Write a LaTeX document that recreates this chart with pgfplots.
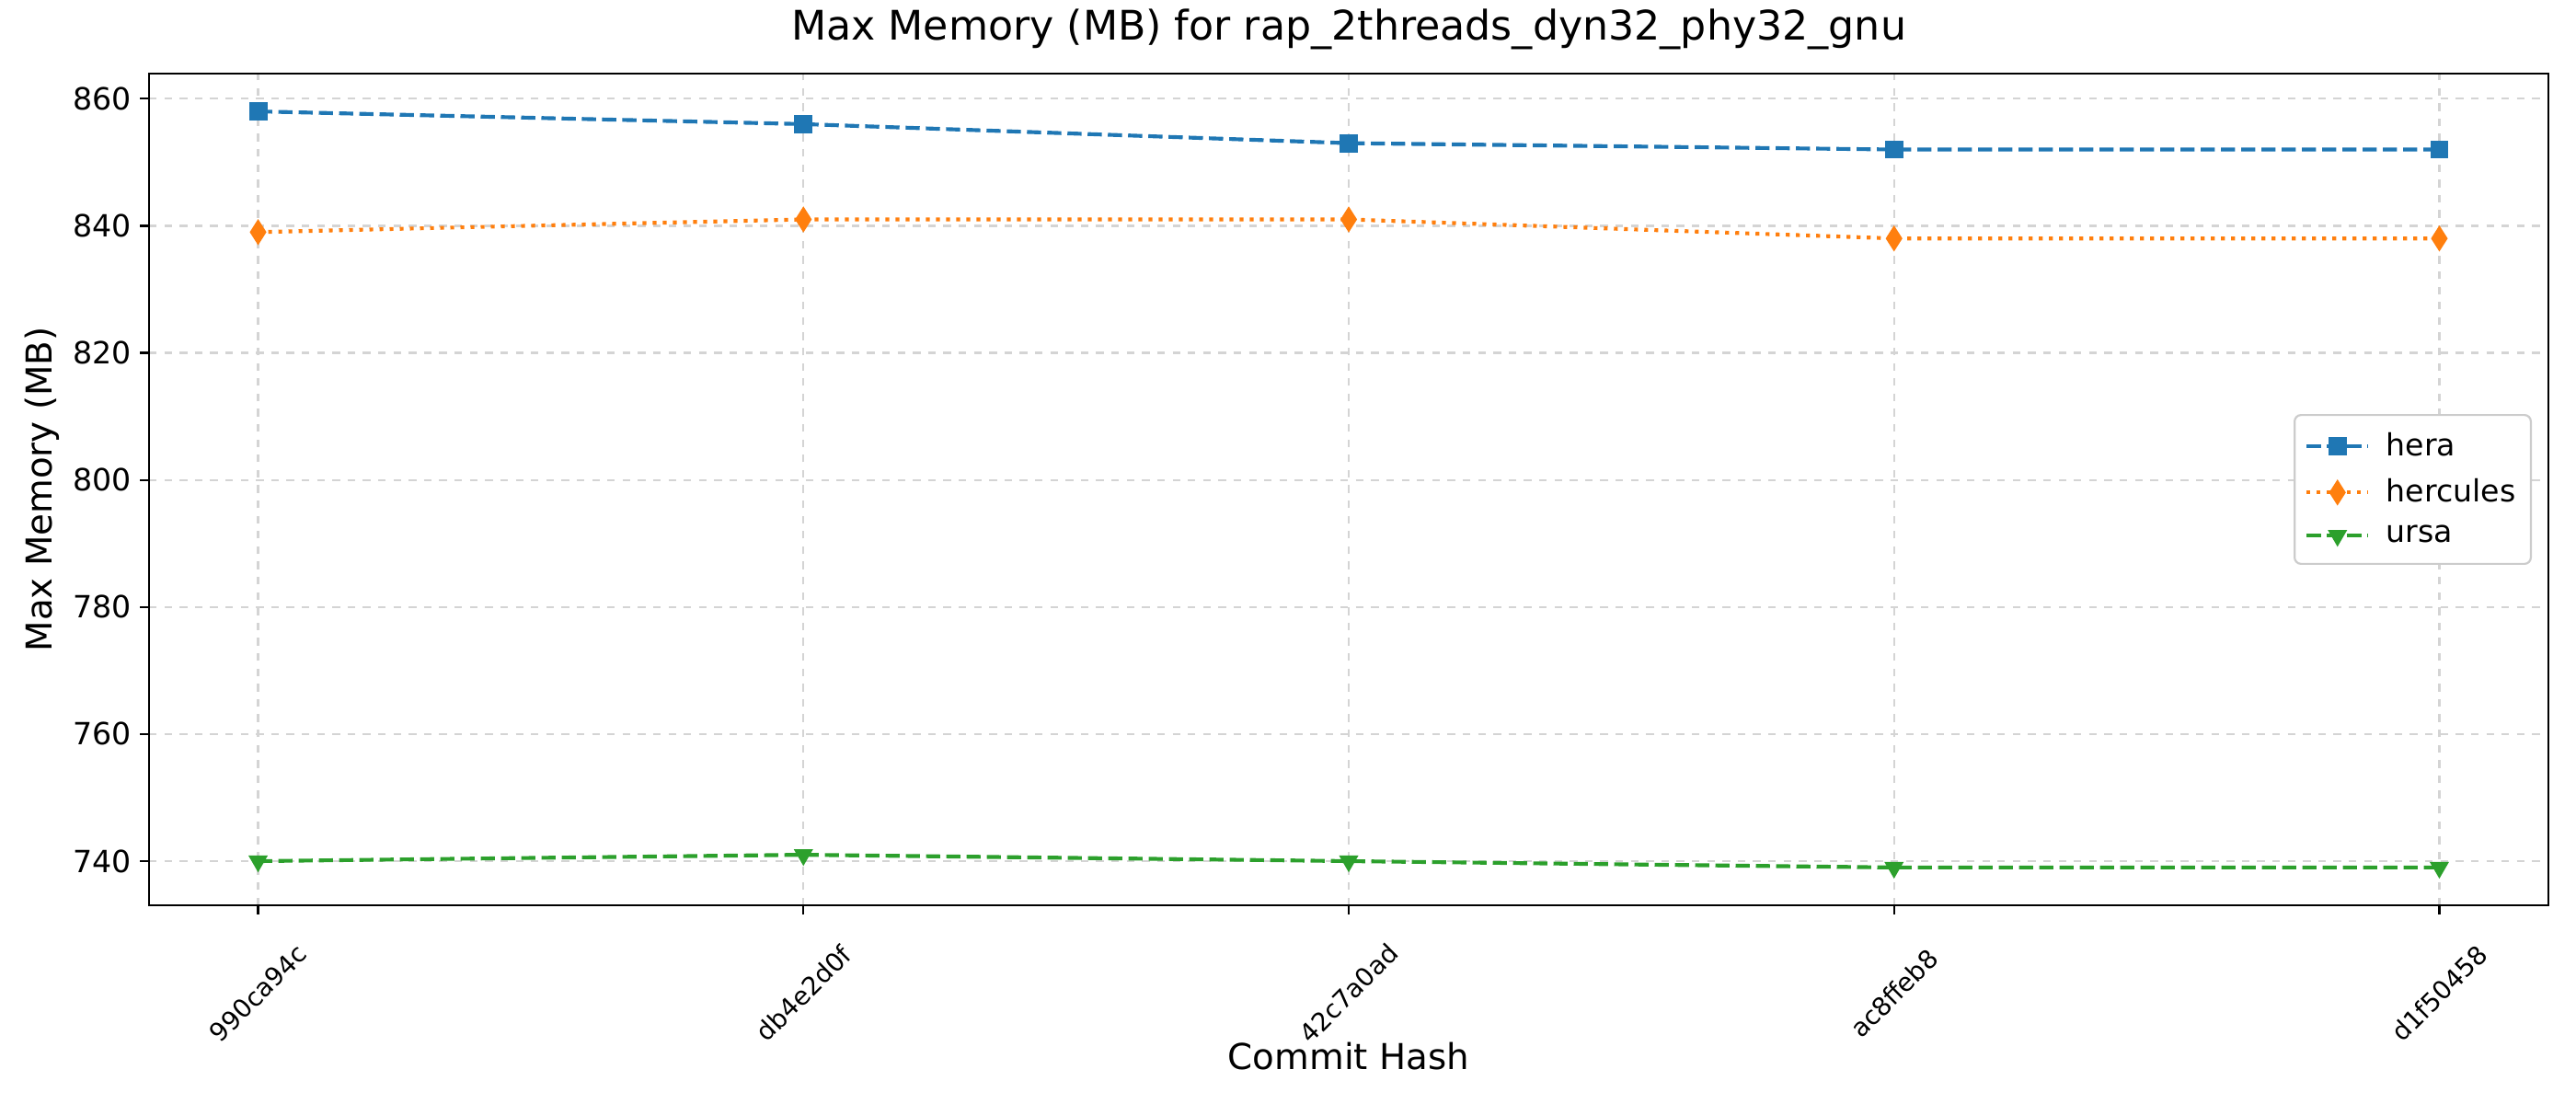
\documentclass[border=0pt]{standalone}
\usepackage{fontspec}
\setmainfont{DejaVu Sans}
\usepackage{pgfplots}
\pgfplotsset{compat=1.18}
\definecolor{tabblue}{HTML}{1F77B4}
\definecolor{taborange}{HTML}{FF7F0E}
\definecolor{tabgreen}{HTML}{2CA02C}
\begin{document}
\begin{tikzpicture}
\useasboundingbox (-0.81in,-1.08in) rectangle (13.19in,4.92in);
\begin{axis}[
  scale only axis, width=13.04in, height=4.52in,
  xmin=-0.2, xmax=4.2, ymin=733.05, ymax=863.95,
  xtick={0,1,2,3,4},
  xticklabels={990ca94c,db4e2d0f,42c7a0ad,ac8ffeb8,d1f50458},
  ytick={740,760,780,800,820,840,860},
  tick pos=left, tick align=outside, major tick length=3.5pt,
  every tick/.style={black, line width=0.8pt},
  axis line style={line width=0.8pt},
  grid=major, grid style={dashed, black!17, line width=0.8pt},
  /pgf/number format/assume math mode=true,
  yticklabel style={font=\fontsize{12}{14}\selectfont},
  xticklabel style={font=\fontsize{10}{12}\selectfont, yshift=-0.43in, rotate=45, anchor=center},
  title={Max Memory (MB) for rap\_2threads\_dyn32\_phy32\_gnu},
  title style={font=\fontsize{16}{19}\selectfont, at={(axis description cs:0.5,1)}, anchor=center, yshift=0.155in},
  xlabel={Commit Hash}, ylabel={Max Memory (MB)},
  label style={font=\fontsize{14}{17}\selectfont},
  xlabel style={at={(axis description cs:0.5,-0.1814)}, anchor=center},
  ylabel style={at={(axis description cs:-0.0445,0.5)}, anchor=center},
  legend style={at={(rel axis cs:1,0.5)}, anchor=east, xshift=-0.09in,
    font=\fontsize{12}{14}\selectfont, draw=black!20, rounded corners=2.5pt,
    line width=0.8pt, row sep=3.5pt, inner xsep=4pt, inner ysep=5pt},
  legend cell align=left,
  legend image code/.code={\draw[mark repeat=2,mark phase=2] plot coordinates {(0cm,0cm)(0.425cm,0cm)(0.85cm,0cm)}; \path (1.0cm,0cm);},
]
\addplot[tabblue, line width=1.5pt, dash pattern=on 5.55pt off 2.4pt,
  mark=square*, mark size=3.2pt, mark options={solid, line width=0.8pt}]
  coordinates {(0,858)(1,856)(2,853)(3,852)(4,852)};
\addlegendentry{hera}
\addplot[taborange, line width=1.5pt, dash pattern=on 1.5pt off 2.475pt,
  mark=diamond*, mark size=4.4pt, mark options={solid, line width=0.8pt, xscale=0.85}]
  coordinates {(0,839)(1,841)(2,841)(3,838)(4,838)};
\addlegendentry{hercules}
\addplot[tabgreen, line width=1.5pt, dash pattern=on 5.55pt off 2.4pt,
  mark=triangle*, mark size=3.6pt, mark options={solid, line width=0.8pt, rotate=180}]
  coordinates {(0,740)(1,741)(2,740)(3,739)(4,739)};
\addlegendentry{ursa}
\end{axis}
\end{tikzpicture}
\end{document}
